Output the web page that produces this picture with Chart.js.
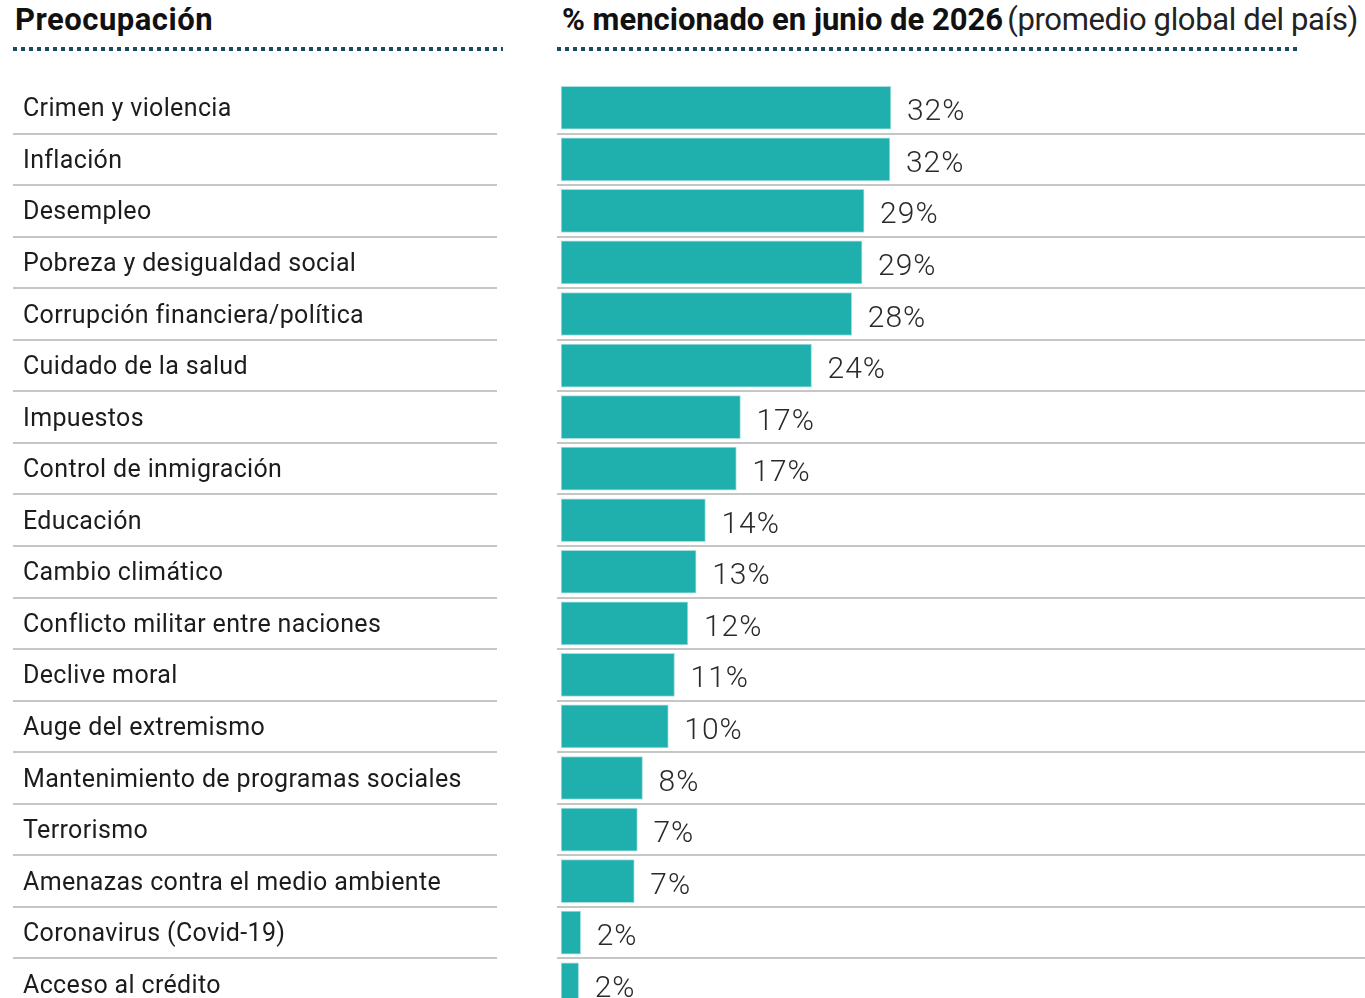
<!DOCTYPE html>
<html lang="es">
<head>
  <meta charset="UTF-8">
  <title>Preocupaciones - junio de 2026</title>
  <script src="https://cdn.jsdelivr.net/npm/chart.js@4.4.1/dist/chart.umd.min.js"></script>
  <style>
    html, body { margin: 0; padding: 0; background: #fff; overflow: hidden; }
    body { width: 1365px; height: 998px; position: relative; font-family: Roboto, Arial, sans-serif; }
    .title { position: absolute; top: 0px; font-size: 31px; line-height: 40px; color: #111; white-space: nowrap; }
    .title b { font-weight: 700; }
    .title span { font-weight: 400; color: #222; letter-spacing: -0.35px; margin-left: 4px; }
    .dots {
      position: absolute; top: 47px; height: 4px;
      background: repeating-linear-gradient(to right, #1b4a5e 0 4px, transparent 4px 8px);
    }
    .chart-box { position: absolute; left: 0; top: 0; width: 1365px; height: 1020px; }
  </style>
</head>
<body>
  <div class="title" style="left:15px;"><b style="letter-spacing:0.5px">Preocupación</b></div>
  <div class="title" style="left:562px;"><b style="letter-spacing:0px">% mencionado en junio de 2026</b><span>(promedio global del país)</span></div>
  <div class="dots" style="left:13px; width:490px;"></div>
  <div class="dots" style="left:557px; width:741px;"></div>
  <div class="chart-box"><canvas id="worryChart" width="1365" height="1020"></canvas></div>

  <script>
    const categories = [
      'Crimen y violencia', 'Inflación', 'Desempleo', 'Pobreza y desigualdad social',
      'Corrupción financiera/política', 'Cuidado de la salud', 'Impuestos',
      'Control de inmigración', 'Educación', 'Cambio climático',
      'Conflicto militar entre naciones', 'Declive moral', 'Auge del extremismo',
      'Mantenimiento de programas sociales', 'Terrorismo',
      'Amenazas contra el medio ambiente', 'Coronavirus (Covid-19)', 'Acceso al crédito'
    ];
    const mentioned = [32.0, 31.9, 29.4, 29.2, 28.2, 24.3, 17.4, 17.0, 14.0, 13.1, 12.3, 11.0, 10.4, 7.9, 7.4, 7.1, 1.9, 1.7];
    const valueLabels = ['32%', '32%', '29%', '29%', '28%', '24%', '17%', '17%', '14%', '13%', '12%', '11%', '10%', '8%', '7%', '7%', '2%', '2%'];

    const sepColor = '#c6c6c6';

    // left column: category names and their separators, placed from the y scale
    const leftColumn = {
      id: 'leftColumn',
      beforeDatasetsDraw(chart) {
        const y = chart.scales.y;
        const ctx = chart.ctx;
        ctx.save();
        ctx.strokeStyle = sepColor;
        ctx.lineWidth = 2;
        for (let i = 0; i < categories.length; i++) {
          const py = Math.round(y.getPixelForValue(i + 0.5));
          ctx.beginPath();
          ctx.moveTo(13, py);
          ctx.lineTo(497, py);
          ctx.stroke();
        }
        ctx.font = '400 25px Roboto';
        ctx.letterSpacing = '0.35px';
        ctx.fillStyle = '#1c1c1c';
        ctx.textAlign = 'left';
        ctx.textBaseline = 'alphabetic';
        categories.forEach((name, i) => {
          ctx.fillText(name, 23, y.getPixelForValue(i) + 8.5);
        });
        ctx.restore();
      }
    };

    const valueText = {
      id: 'valueText',
      afterDatasetsDraw(chart) {
        const ctx = chart.ctx;
        const meta = chart.getDatasetMeta(0);
        ctx.save();
        ctx.font = '300 30px Roboto';
        ctx.letterSpacing = '1px';
        ctx.fillStyle = '#2a2a2a';
        ctx.textBaseline = 'alphabetic';
        ctx.textAlign = 'left';
        meta.data.forEach((bar, i) => {
          ctx.fillText(valueLabels[i], bar.x + 16, bar.y + 12.5);
        });
        ctx.restore();
      }
    };

    new Chart(document.getElementById('worryChart'), {
      type: 'bar',
      data: {
        labels: categories,
        datasets: [{
          data: mentioned,
          backgroundColor: '#1fb0ae',
          borderColor: '#a9dfdd',
          borderWidth: 1,
          borderSkipped: false,
          barThickness: 43
        }]
      },
      options: {
        indexAxis: 'y',
        responsive: false,
        animation: false,
        layout: { padding: { left: 23, right: 0, top: 82, bottom: 10 } },
        plugins: { legend: { display: false }, tooltip: { enabled: false } },
        scales: {
          x: { display: false, min: -0.4, max: 78 },
          y: {
            border: { display: false },
            grid: {
              offset: true,
              drawTicks: false,
              lineWidth: 2,
              color: (c) => c.index === 0 ? 'rgba(0,0,0,0)' : sepColor
            },
            ticks: { display: false },
            afterFit(scale) { scale.width = 534; }
          }
        }
      },
      plugins: [leftColumn, valueText]
    });
  </script>
</body>
</html>
